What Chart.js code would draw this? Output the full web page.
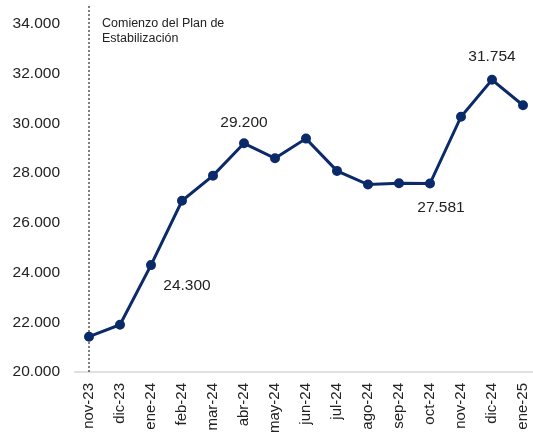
<!DOCTYPE html>
<html>
<head>
<meta charset="utf-8">
<script src="https://cdn.jsdelivr.net/npm/chart.js@4.4.1/dist/chart.umd.min.js"></script>
<style>
    html, body { margin: 0; padding: 0; background: #fff; }
    #wrap { width: 533px; height: 432px; position: relative; }
</style>
</head>
<body>
<div id="wrap"><canvas id="salarioChart"></canvas></div>
<script>
// Datos
const meses = ['nov-23', 'dic-23', 'ene-24', 'feb-24', 'mar-24', 'abr-24', 'may-24',
    'jun-24', 'jul-24', 'ago-24', 'sep-24', 'oct-24', 'nov-24', 'dic-24', 'ene-25'];
const valores = [21420, 21900, 24300, 26890, 27900, 29200, 28600,
    29390, 28090, 27540, 27590, 27581, 30270, 31754, 30730];

// Etiquetas de valores destacados: indice, texto, desplazamiento en px
const etiquetas = [
    { idx: 2, text: '24.300', dx: 36, dy: 21 },
    { idx: 5, text: '29.200', dx: 0, dy: -21 },
    { idx: 11, text: '27.581', dx: 11, dy: 24 },
    { idx: 13, text: '31.754', dx: 0, dy: -23 }
];

const anotacionIdx = 0;
const anotacionTexto = ['Comienzo del Plan de', 'Estabilización'];

const yMin = 20000;
const yMax = 34000;
const yPaso = 2000;

const colorLinea = '#0b2a6a';
const fuente = 'Liberation Sans, Arial, Helvetica, sans-serif';

const fmt = (n) => new Intl.NumberFormat('de-DE').format(n);

// Linea punteada vertical, texto de anotacion y linea base
const extrasPlugin = {
    id: 'extras',
    beforeDatasetsDraw(chart) {
        const { ctx, chartArea, scales } = chart;
        const x = scales.x.getPixelForValue(anotacionIdx);

        ctx.save();
        // linea base
        ctx.strokeStyle = '#d6d6d6';
        ctx.lineWidth = 1.5;
        ctx.beginPath();
        ctx.moveTo(chartArea.left - 15, chartArea.bottom);
        ctx.lineTo(chart.width, chartArea.bottom);
        ctx.stroke();

        // linea punteada
        ctx.strokeStyle = '#555';
        ctx.lineWidth = 1.5;
        ctx.setLineDash([2, 2]);
        ctx.beginPath();
        ctx.moveTo(x, 6);
        ctx.lineTo(x, chartArea.bottom);
        ctx.stroke();
        ctx.setLineDash([]);

        ctx.fillStyle = '#222';
        ctx.font = '12.5px ' + fuente;
        ctx.textAlign = 'left';
        ctx.textBaseline = 'middle';
        anotacionTexto.forEach((t, i) => ctx.fillText(t, x + 13, 24 + i * 15));
        ctx.restore();
    },
    afterDatasetsDraw(chart) {
        const { ctx } = chart;
        const meta = chart.getDatasetMeta(0);
        ctx.save();
        ctx.fillStyle = '#222';
        ctx.font = '15.5px ' + fuente;
        ctx.textAlign = 'center';
        ctx.textBaseline = 'middle';
        etiquetas.forEach(e => {
            const p = meta.data[e.idx];
            ctx.fillText(e.text, p.x + e.dx, p.y + e.dy);
        });
        ctx.restore();
    }
};

new Chart(document.getElementById('salarioChart'), {
    type: 'line',
    data: {
        labels: meses,
        datasets: [{
            data: valores,
            borderColor: colorLinea,
            backgroundColor: colorLinea,
            borderWidth: 3,
            pointRadius: 3.5,
            pointHoverRadius: 3.5,
            tension: 0
        }]
    },
    options: {
        responsive: true,
        maintainAspectRatio: false,
        animation: false,
        layout: {
            padding: { top: 24, right: 10, bottom: 0, left: 0 }
        },
        plugins: {
            legend: { display: false },
            tooltip: { enabled: false }
        },
        scales: {
            x: {
                offset: false,
                grid: { display: false, drawTicks: false },
                border: { display: false },
                ticks: {
                    color: '#222',
                    font: { family: fuente, size: 15 },
                    maxRotation: 90,
                    minRotation: 90,
                    padding: 11,
                    autoSkip: false
                },
                afterFit: (scale) => {
                    scale.height = 60;
                    scale.paddingLeft = 0;
                    scale.paddingRight = 0;
                }
            },
            y: {
                min: yMin,
                max: yMax,
                grid: { display: false, drawTicks: false },
                border: { display: false },
                ticks: {
                    stepSize: yPaso,
                    color: '#222',
                    font: { family: fuente, size: 15.5 },
                    padding: 29,
                    callback: (v) => fmt(v)
                },
                afterFit: (scale) => {
                    scale.width = 89;
                    scale.paddingTop = 0;
                    scale.paddingBottom = 0;
                }
            }
        }
    },
    plugins: [extrasPlugin]
});
</script>
</body>
</html>
